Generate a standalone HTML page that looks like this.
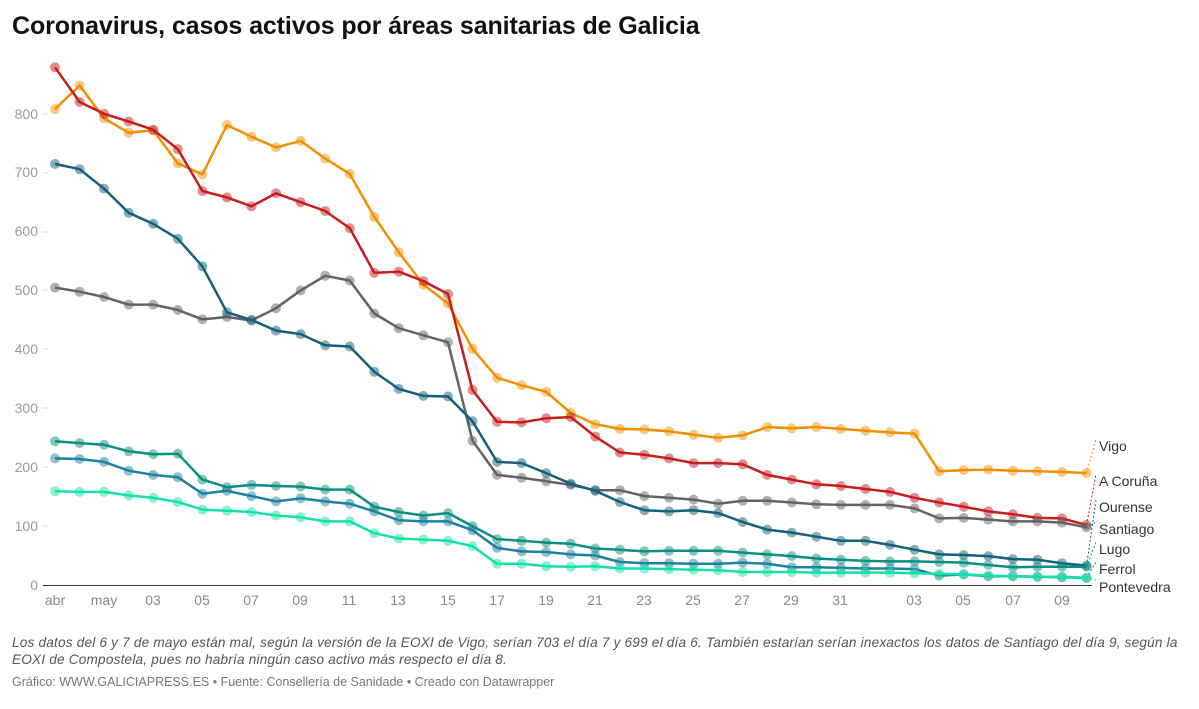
<!DOCTYPE html>
<html><head><meta charset="utf-8"><style>
body{margin:0;background:#fff;font-family:"Liberation Sans",sans-serif;width:1199px;height:709px;overflow:hidden;position:relative}
.t{position:absolute;left:12px;top:12px;font-size:25px;font-weight:bold;color:#111;letter-spacing:-0.1px}
.n{position:absolute;left:12px;top:634px;width:1185px;font-size:13.6px;font-style:italic;color:#555;line-height:17px;letter-spacing:0.2px}
.f{position:absolute;left:12px;top:675px;font-size:12.5px;color:#777;letter-spacing:0px}
svg{position:absolute;left:0;top:0}
</style></head><body>
<div class="t">Coronavirus, casos activos por áreas sanitarias de Galicia</div>
<svg id="s" width="1199" height="709" font-family="Liberation Sans, sans-serif">
<g fill="#9a9a9a" font-size="14" text-anchor="end">
<text x="38" y="590">0</text><text x="38" y="531">100</text><text x="38" y="472">200</text><text x="38" y="413">300</text><text x="38" y="354">400</text><text x="38" y="295">500</text><text x="38" y="236">600</text><text x="38" y="177">700</text><text x="38" y="119">800</text>
</g>
<g stroke="#ddd" stroke-width="1">
<line x1="42" x2="48" y1="526" y2="526"/><line x1="42" x2="48" y1="467" y2="467"/><line x1="42" x2="48" y1="408" y2="408"/><line x1="42" x2="48" y1="349" y2="349"/><line x1="42" x2="48" y1="290" y2="290"/><line x1="42" x2="48" y1="232" y2="232"/><line x1="42" x2="48" y1="173" y2="173"/><line x1="42" x2="48" y1="114" y2="114"/>
</g>
<line x1="43" x2="1092" y1="585.5" y2="585.5" stroke="#333" stroke-width="1"/>
<g fill="#888" font-size="14" text-anchor="middle">
<text x="55" y="605">abr</text><text x="104" y="605">may</text><text x="153" y="605">03</text><text x="202" y="605">05</text><text x="251" y="605">07</text><text x="300" y="605">09</text><text x="349" y="605">11</text><text x="398" y="605">13</text><text x="448" y="605">15</text><text x="497" y="605">17</text><text x="546" y="605">19</text><text x="595" y="605">21</text><text x="644" y="605">23</text><text x="693" y="605">25</text><text x="742" y="605">27</text><text x="791" y="605">29</text><text x="840" y="605">31</text><text x="914" y="605">03</text><text x="963" y="605">05</text><text x="1013" y="605">07</text><text x="1062" y="605">09</text>
</g>
<g font-size="14" fill="#333">
<text x="1099" y="451">Vigo</text><text x="1099" y="486">A Coruña</text><text x="1099" y="512">Ourense</text><text x="1099" y="534">Santiago</text><text x="1099" y="554">Lugo</text><text x="1099" y="574">Ferrol</text><text x="1099" y="592">Pontevedra</text>
</g>
<g id="d"></g>
</svg>
<div class="n">Los datos del 6 y 7 de mayo están mal, según la versión de la EOXI de Vigo, serían 703 el día 7 y 699 el día 6. También estarían serían inexactos los datos de Santiago del día 9, según la EOXI de Compostela, pues no habría ningún caso activo más respecto el día 8.</div>
<div class="f">Gráfico: WWW.GALICIAPRESS.ES • Fuente: Consellería de Sanidade • Creado con Datawrapper</div>
<script>
var S=[
["#f18f01",[808,848,792,768,772,716,697,781,761,743,754,724,698,625,565,510,478,401,352,339,328,292,273,265,264,261,255,250,254,268,266,268,265,262,259,257,193,195,196,194,193,192,190],446],
["#c71e1d",[879,820,800,787,773,740,669,658,643,665,650,635,606,530,532,516,494,331,277,276,283,285,252,225,221,215,207,207,205,187,179,171,168,163,158,148,140,133,125,120,114,113,102],481],
["#636363",[505,498,489,476,476,467,451,455,449,470,500,525,517,461,436,424,412,245,187,182,176,170,161,161,151,148,145,138,143,143,140,137,136,136,136,130,113,114,111,108,108,106,98],529],
["#15607a",[715,706,673,632,613,588,541,463,450,432,426,407,405,362,333,321,320,278,209,207,190,172,160,141,127,125,127,122,107,94,89,82,75,75,68,60,52,51,49,44,43,37,33],507],
["#09907f",[244,241,238,227,222,223,179,166,170,168,167,162,162,133,124,118,122,100,78,75,72,70,62,60,57,58,58,58,55,52,49,45,43,41,40,40,39,38,34,30,31,31,31],549],
["#1d81a2",[215,214,209,194,187,183,155,160,151,142,147,142,138,125,110,108,108,93,63,57,56,52,50,39,37,37,36,36,38,36,30,30,29,28,28,27,16,18,15,15,14,13,12],569],
["#15e0a8",[159,158,158,152,148,141,128,126,124,118,115,108,108,88,79,77,75,66,36,36,32,31,32,28,28,27,26,25,22,22,22,21,21,21,21,20,19,18,16,15,14,14,12],587]];
var g=document.getElementById('d'),h='';
S.forEach(function(s){var p='',c='';s[1].forEach(function(v,i){var x=55+24.56*i,y=585-v*0.589;p+=(i?'L':'M')+x.toFixed(1)+' '+y.toFixed(1);c+='<circle cx="'+x.toFixed(1)+'" cy="'+y.toFixed(1)+'" r="5" fill="'+s[0]+'" opacity="0.5"/>';});
var lx=1086.6,ly=585-s[1][42]*0.589;
h+='<line x1="'+lx+'" y1="'+ly+'" x2="1096" y2="'+(s[2]-7)+'" stroke="'+s[0]+'" stroke-dasharray="2,2" stroke-width="1"/>';
h+=c+'<path d="'+p+'" fill="none" stroke="'+s[0]+'" stroke-width="2.5" stroke-linejoin="round"/>';});
g.innerHTML=h;
</script>
</body></html>
